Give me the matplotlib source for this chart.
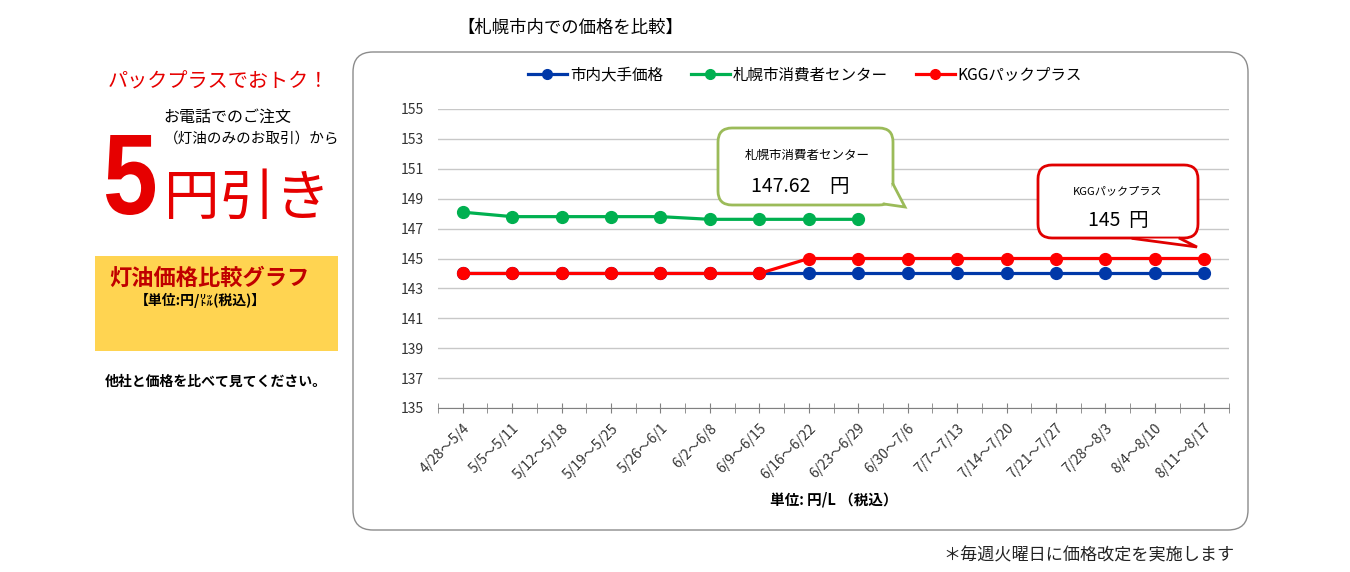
import matplotlib
matplotlib.use("Agg")
import matplotlib.pyplot as plt
import matplotlib.transforms as mtransforms
from matplotlib.patches import FancyBboxPatch, Polygon, PathPatch
from matplotlib.lines import Line2D
from matplotlib.textpath import TextPath
from matplotlib.font_manager import FontProperties

plt.rcParams['font.family'] = ['Noto Sans CJK JP', 'DejaVu Sans']

# ---------------- data ----------------
weeks = ["4/28～5/4", "5/5～5/11", "5/12～5/18", "5/19～5/25", "5/26～6/1",
         "6/2～6/8", "6/9～6/15", "6/16～6/22", "6/23～6/29", "6/30～7/6",
         "7/7～7/13", "7/14～7/20", "7/21～7/27", "7/28～8/3", "8/4～8/10",
         "8/11～8/17"]
major_price = [144, 144, 144, 144, 144, 144, 144, 144, 144, 144, 144, 144, 144, 144, 144, 144]
center_price = [148.1, 147.8, 147.8, 147.8, 147.8, 147.62, 147.62, 147.62, 147.62]
kgg_price = [144, 144, 144, 144, 144, 144, 144, 145, 145, 145, 145, 145, 145, 145, 145, 145]
series_names = ["市内大手価格", "札幌市消費者センター", "KGGパックプラス"]
y_ticks = list(range(135, 156, 2))

C_BLUE = "#0038A8"
C_GREEN = "#00B050"
C_RED = "#FF0000"

W, H = 1350, 572
fig = plt.figure(figsize=(W / 100, H / 100), dpi=100)

# background pixel axes
bg = fig.add_axes([0, 0, 1, 1], zorder=0)
bg.set_xlim(0, W)
bg.set_ylim(H, 0)
bg.axis("off")

# chart frame
bg.add_patch(FancyBboxPatch((353, 52), 895, 478, boxstyle="round,pad=0,rounding_size=20",
                            facecolor="white", edgecolor="#8c8c8c", linewidth=1.0))

# left panel texts
bg.text(218, 82, "パックプラスでおトク！", color="#E60000", fontsize=14.5, ha="center", va="center")
bg.text(227, 117, "お電話でのご注文", color="black", fontsize=11.5, ha="center", va="center")
bg.text(252, 139, "（灯油のみのお取引）から", color="black", fontsize=10.5, ha="center", va="center")

# big condensed "5" (a glyph outline fitted into its box)
five = TextPath((0, 0), "5", size=100, prop=FontProperties(family="Liberation Sans", weight="bold"))
ext = five.get_extents()
bx0, by0, bx1, by1 = 106, 135, 155, 215
tr = (mtransforms.Affine2D()
      .translate(-ext.x0, -ext.y0)
      .scale((bx1 - bx0) / ext.width, -(by1 - by0) / ext.height)
      .translate(bx0, by1))
bg.add_patch(PathPatch(tr.transform_path(five), facecolor="#E60000", edgecolor="none"))

bg.text(247, 199, "円引き", color="#E60000", fontsize=40, ha="center", va="center")

bg.add_patch(FancyBboxPatch((95, 256), 243, 95, boxstyle="square,pad=0",
                            facecolor="#FFD451", edgecolor="none"))
bg.text(109, 278, "灯油価格比較グラフ", color="#C00000", fontsize=16, fontweight="bold",
        ha="left", va="center")
bg.text(200, 300, "【単位:円/㍑(税込)】", color="black", fontsize=10, fontweight="bold",
        ha="center", va="center")
bg.text(216, 382, "他社と価格を比べて見てください。", color="black", fontsize=10, fontweight="bold",
        ha="center", va="center")

bg.text(570, 28, "【札幌市内での価格を比較】", color="black", fontsize=12.5, ha="center", va="center")
bg.text(1089, 556, "＊毎週火曜日に価格改定を実施します", color="#222222", fontsize=12.3,
        ha="center", va="center")

# ---------------- chart ----------------
x0, x1, ytop, ybot = 438, 1229, 109, 408
ax = fig.add_axes([x0 / W, 1 - ybot / H, (x1 - x0) / W, (ybot - ytop) / H], zorder=2)
ax.patch.set_alpha(0)
xs = list(range(len(weeks)))
lw = 2.3
ms = 8.5
ax.plot(xs, major_price, color=C_BLUE, lw=lw, marker="o", ms=ms, zorder=3, clip_on=False)
ax.plot(xs[:len(center_price)], center_price, color=C_GREEN, lw=lw, marker="o", ms=ms, zorder=4, clip_on=False)
ax.plot(xs, kgg_price, color=C_RED, lw=lw, marker="o", ms=ms, zorder=5, clip_on=False)

ax.set_xlim(-0.5, len(weeks) - 0.5)
ax.set_ylim(135, 155)
ax.set_yticks(y_ticks)
ax.set_yticklabels([str(v) for v in y_ticks], fontsize=10, color="#333333")
ax.yaxis.grid(True, color="#c8c8c8", linewidth=1)
ax.set_axisbelow(True)
ax.tick_params(axis="y", length=0, pad=10)

ax.set_xticks(xs)
ax.set_xticklabels(weeks, rotation=45, ha="right", rotation_mode="anchor", fontsize=10, color="#333333")
offset = mtransforms.ScaledTranslation(0.05, -0.03, fig.dpi_scale_trans)
for lab in ax.get_xticklabels():
    lab.set_transform(lab.get_transform() + offset)
ax.set_xticks([i - 0.5 for i in range(len(weeks) + 1)], minor=True)
ax.tick_params(axis="x", which="both", direction="inout", length=7, color="#808080", pad=6)
for s in ["top", "right", "left"]:
    ax.spines[s].set_visible(False)
ax.spines["bottom"].set_color("#808080")
ax.set_xlabel("単位: 円/L （税込）", fontsize=10.5, fontweight="bold", labelpad=7)

handles = [Line2D([], [], color=c, lw=lw, marker="o", ms=7) for c in (C_BLUE, C_GREEN, C_RED)]
fig.legend(handles, series_names, loc="center", bbox_to_anchor=(805 / W, 1 - 75 / H), ncol=3,
           frameon=False, fontsize=11.2, handlelength=2.5, columnspacing=1.8, handletextpad=0.2)

# ---------------- callouts (overlay) ----------------
ov = fig.add_axes([0, 0, 1, 1], zorder=5)
ov.set_xlim(0, W)
ov.set_ylim(H, 0)
ov.axis("off")
ov.patch.set_alpha(0)


def callout(x, y, w, h, tail, edge, lwidth):
    ov.add_patch(FancyBboxPatch((x, y), w, h, boxstyle="round,pad=0,rounding_size=14",
                                facecolor="white", edgecolor=edge, linewidth=lwidth, zorder=1))
    ov.add_patch(Polygon(tail, closed=True, facecolor="white", edgecolor="none", zorder=2))
    (ax_, ay_), (tx, ty), (bx, by) = tail
    ov.plot([ax_, tx, bx], [ay_, ty, by], color=edge, lw=lwidth, zorder=3, solid_joinstyle="miter")


callout(718, 128, 175, 77, [(893, 184), (905, 207), (884, 204)], "#9BBB59", 2.0)
ov.text(807, 155, "札幌市消費者センター", fontsize=9, ha="center", va="center")
ov.text(751, 186, "147.62　円", fontsize=14, ha="left", va="center")

callout(1038, 165, 160, 73, [(1133, 238.5), (1197, 247), (1180, 238.5)], "#E00000", 2.0)
ov.text(1118, 191, "KGGパックプラス", fontsize=8, ha="center", va="center")
ov.text(1118, 221, "145  円", fontsize=14, ha="center", va="center")

fig.savefig("out.png", dpi=100)
